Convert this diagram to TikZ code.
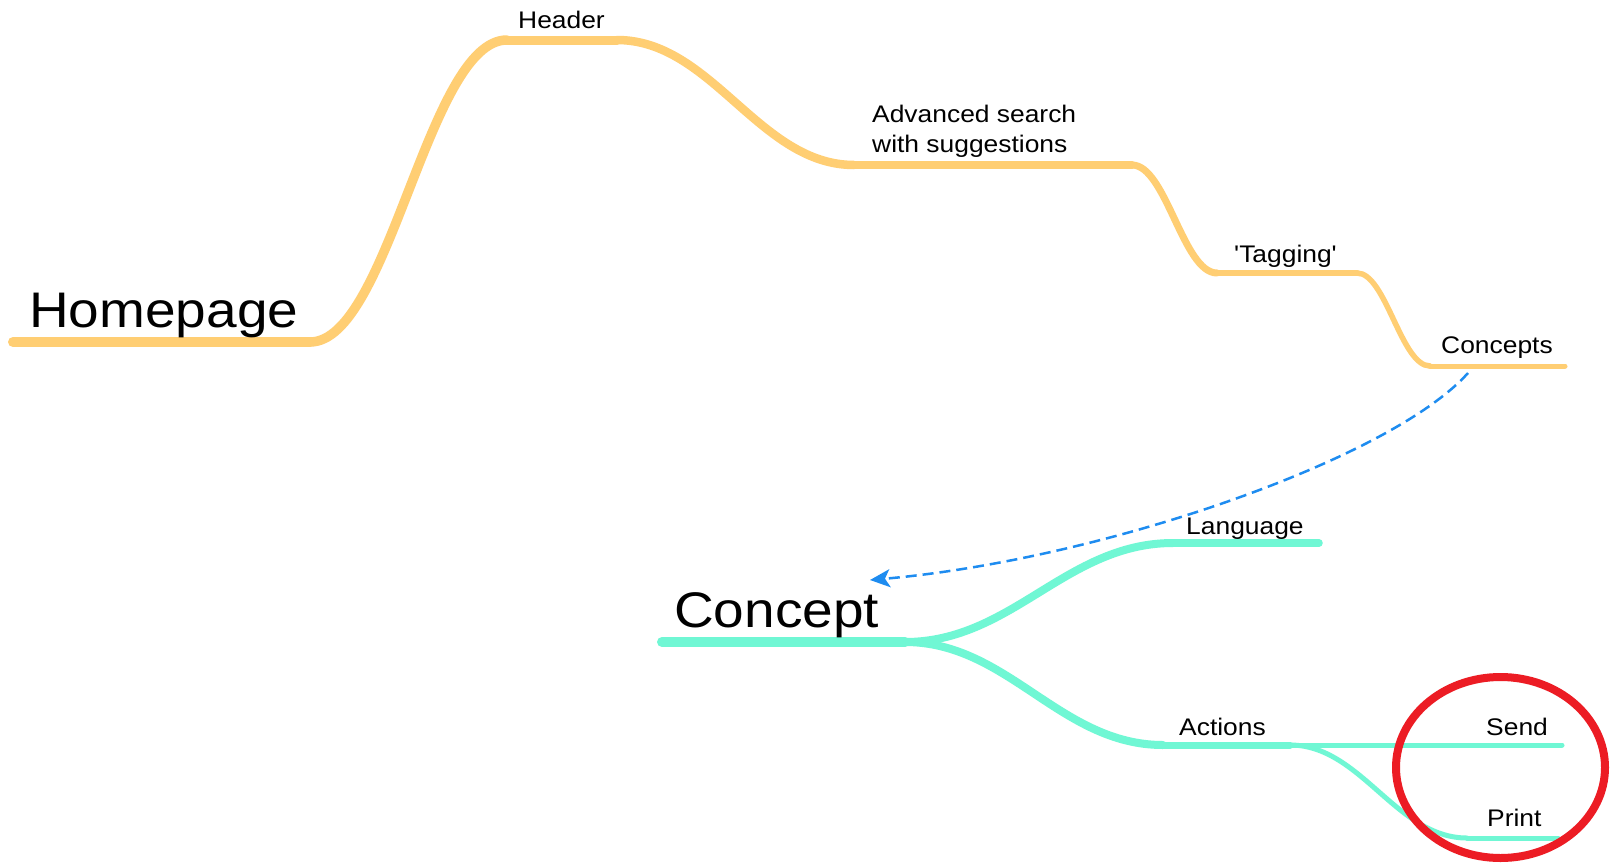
\documentclass[tikz,border=0pt]{standalone}
\usepackage{fontspec}
\setmainfont{Liberation Sans}[FakeStretch=1.1, Ligatures=TeXOff]
\usetikzlibrary{arrows.meta}
\definecolor{orng}{RGB}{255,206,115}
\definecolor{mint}{RGB}{112,247,212}
\definecolor{dblue}{RGB}{30,140,240}
\definecolor{rred}{RGB}{236,28,36}
\tikzset{
  obranch/.style={draw=orng, line cap=round, line join=round},
  gbranch/.style={draw=mint, line cap=round, line join=round},
  small/.style={anchor=base west, inner sep=0pt, font=\fontsize{24}{30}\selectfont, text=black},
  big/.style={anchor=base west, inner sep=0pt, font=\fontsize{50}{60}\selectfont, text=black},
  link/.style={draw=dblue, line width=2.5, dash pattern=on 11pt off 6pt, -{Stealth[length=20pt,width=18pt,inset=5pt]}},
  ring/.style={draw=rred, line width=8},
}
\begin{document}
\begin{tikzpicture}[x=1pt,y=-1pt]
\useasboundingbox (0,0) rectangle (1614,865);
\fill[white] (0,0) rectangle (1614,865);

% orange branch coordinates
\coordinate (hp0) at (13,342);
\coordinate (hp1) at (310,342);
\coordinate (hd0) at (507,40);
\coordinate (hd1) at (617,40);
\coordinate (as0) at (854,165);
\coordinate (as1) at (1132,165);
\coordinate (tg0) at (1217,273);
\coordinate (tg1) at (1357,273);
\coordinate (cs0) at (1430,366);
\coordinate (cs1) at (1565,366);

% green branch coordinates
\coordinate (cc0) at (662,642);
\coordinate (cc1) at (905,642);
\coordinate (lg0) at (1173,543);
\coordinate (lg1) at (1319,543);
\coordinate (ac0) at (1163,745);
\coordinate (ac1) at (1290,745);
\coordinate (sd1) at (1562,745);
\coordinate (pr0) at (1467,838);
\coordinate (pr1) at (1558,838);

% orange chain
\draw[obranch, line width=10] (hp0) -- (hp1);
\draw[obranch, line width=9.5] (hp1) .. controls (389,342) and (428,40) .. (hd0);
\draw[obranch, line width=9] (hd0) -- (hd1);
\draw[obranch, line width=8.5] (hd1) .. controls (712,40) and (759,165) .. (as0);
\draw[obranch, line width=8] (as0) -- (as1);
\draw[obranch, line width=7] (as1) .. controls (1166,165) and (1183,273) .. (tg0);
\draw[obranch, line width=6.5] (tg0) -- (tg1);
\draw[obranch, line width=5.5] (tg1) .. controls (1386,273) and (1401,366) .. (cs0);
\draw[obranch, line width=5] (cs0) -- (cs1);

% green tree
\draw[gbranch, line width=10] (cc0) -- (cc1);
\draw[gbranch, line width=8] (cc1) .. controls (1012,642) and (1066,543) .. (lg0);
\draw[gbranch, line width=7.5] (lg0) -- (lg1);
\draw[gbranch, line width=8] (cc1) .. controls (1008,642) and (1060,745) .. (ac0);
\draw[gbranch, line width=7] (ac0) -- (ac1);
\draw[gbranch, line width=5] (ac1) -- (sd1);
\draw[gbranch, line width=5] (ac1) .. controls (1361,745) and (1396,838) .. (pr0);
\draw[gbranch, line width=5] (pr0) -- (pr1);

% labels
\node[big] (homepage) at (29,327) {Homepage};
\node[small] (header) at (518,28) {Header};
\node[small] (adv1) at (872,122) {Advanced search};
\node[small] (adv2) at (872,152) {with suggestions};
\node[small] (tagging) at (1234,262) {'Tagging'};
\node[small] (concepts) at (1441,353) {Concepts};
\node[big] (concept) at (674,627) {Concept};
\node[small] (language) at (1186,534) {Language};
\node[small] (actions) at (1179,735) {Actions};
\node[small] (send) at (1486,735) {Send};
\node[small] (print) at (1487,826) {Print};

% dashed link
\coordinate (dstart) at (1468,373);
\coordinate (dend) at (870,580);
\draw[link] (dstart) .. controls (1390,460) and (1100,560) .. (dend);

% red ring
\draw[ring] (1500.5,767.5) ellipse [x radius=104.5, y radius=90.5];
\end{tikzpicture}
\end{document}
